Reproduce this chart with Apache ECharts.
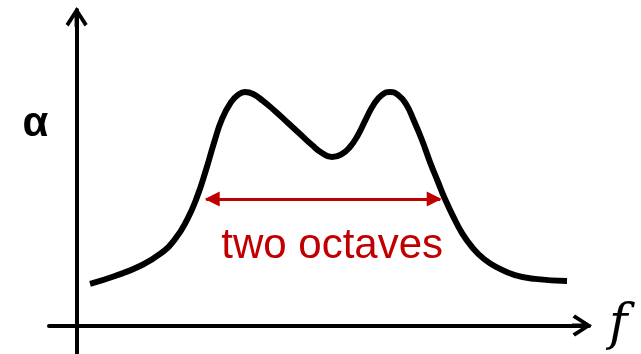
<!DOCTYPE html>
<html>
<head>
<meta charset="utf-8">
<script src="https://cdn.jsdelivr.net/npm/echarts@6/dist/echarts.min.js"></script>
<style>
  html, body { margin: 0; padding: 0; background: #fff; }
  #chart { width: 641px; height: 354px; }
</style>
</head>
<body>
<div id="chart"></div>
<script>
// Frequency, in octaves above the origin
const freqOctaves = [
  0.112, 0.32, 0.528, 0.695, 0.82, 0.92, 1.003, 1.078, 1.145, 1.212,
  1.287, 1.345, 1.403, 1.47, 1.553, 1.653, 1.762, 1.862, 1.962, 2.045,
  2.128, 2.212, 2.278, 2.345, 2.412, 2.478, 2.545, 2.612, 2.678, 2.745,
  2.812, 2.878, 2.945, 3.012, 3.07, 3.137, 3.212, 3.295, 3.395, 3.512,
  3.653, 3.82, 4.087
];
// Absorption coefficient (relative)
const alphaValues = [
  0.132, 0.157, 0.189, 0.227, 0.274, 0.335, 0.407, 0.493, 0.579, 0.655,
  0.708, 0.731, 0.740, 0.734, 0.712, 0.680, 0.642, 0.607, 0.572, 0.547,
  0.534, 0.544, 0.566, 0.604, 0.655, 0.702, 0.731, 0.740, 0.731, 0.702,
  0.648, 0.588, 0.518, 0.455, 0.401, 0.347, 0.293, 0.249, 0.211, 0.183,
  0.160, 0.148, 0.141
];
// Bandwidth marker
const bandStart = 1.08;
const bandEnd = 3.03;
const bandLevel = 0.401;
const bandLabel = 'two octaves';
const bandLabelAt = [2.13, 0.252];

const curve = freqOctaves.map((f, i) => [f, alphaValues[i]]);

// Open chevron arrowhead with a short stem, used at the end of both axes
const axisArrow = 'path://M11,0 L22,17 L19,19.5 L13,10 L13,20 L9,20 L9,10 L3,19.5 L0,17 Z';

const axisCommon = {
  axisLine: {
    onZero: true,
    symbol: ['none', axisArrow],
    symbolSize: [22, 20],
    symbolOffset: [0, -7],
    lineStyle: { color: '#000', width: 4 }
  },
  axisTick: { show: false },
  axisLabel: { show: false },
  splitLine: { show: false }
};

const chart = echarts.init(document.getElementById('chart'), null, { renderer: 'canvas' });
chart.setOption({
  animation: false,
  backgroundColor: '#fff',
  grid: { left: 49, right: 52, top: 10, bottom: 0, containLabel: false },
  xAxis: Object.assign({
    type: 'value',
    min: -0.23,
    max: 4.27,
    name: 'f',
    nameLocation: 'end',
    nameGap: 20,
    nameTextStyle: {
      fontFamily: 'DejaVu Serif',
      fontStyle: 'italic',
      fontSize: 50,
      color: '#000',
      padding: [6, 0, 0, 0]
    }
  }, axisCommon),
  yAxis: Object.assign({
    type: 'value',
    min: -0.09,
    max: 1.0
  }, axisCommon),
  graphic: [{
    type: 'text',
    x: 35.5,
    y: 124,
    style: {
      text: 'α',
      fontFamily: 'Liberation Sans',
      fontWeight: 'bold',
      fontSize: 42,
      fill: '#000',
      align: 'center',
      verticalAlign: 'middle'
    }
  }],
  series: [
    {
      type: 'line',
      data: curve,
      smooth: 0.5,
      symbol: 'none',
      silent: true,
      lineStyle: { color: '#000', width: 6, cap: 'butt' },
      z: 3
    },
    {
      type: 'line',
      data: [],
      silent: true,
      markLine: {
        silent: true,
        symbol: ['triangle', 'triangle'],
        symbolSize: 15,
        symbolOffset: [[0, 6], [0, 6]],
        label: { show: false },
        lineStyle: { color: '#c00000', width: 3, type: 'solid', opacity: 1 },
        emphasis: { disabled: true },
        data: [[
          { coord: [bandStart, bandLevel] },
          { coord: [bandEnd, bandLevel] }
        ]]
      }
    },
    {
      type: 'scatter',
      data: [bandLabelAt],
      symbolSize: 0,
      silent: true,
      itemStyle: { opacity: 1 },
      label: {
        show: true,
        position: 'inside',
        formatter: bandLabel,
        fontFamily: 'Liberation Sans',
        fontSize: 42,
        color: '#c00000',
        opacity: 1
      }
    }
  ]
});
</script>
</body>
</html>
